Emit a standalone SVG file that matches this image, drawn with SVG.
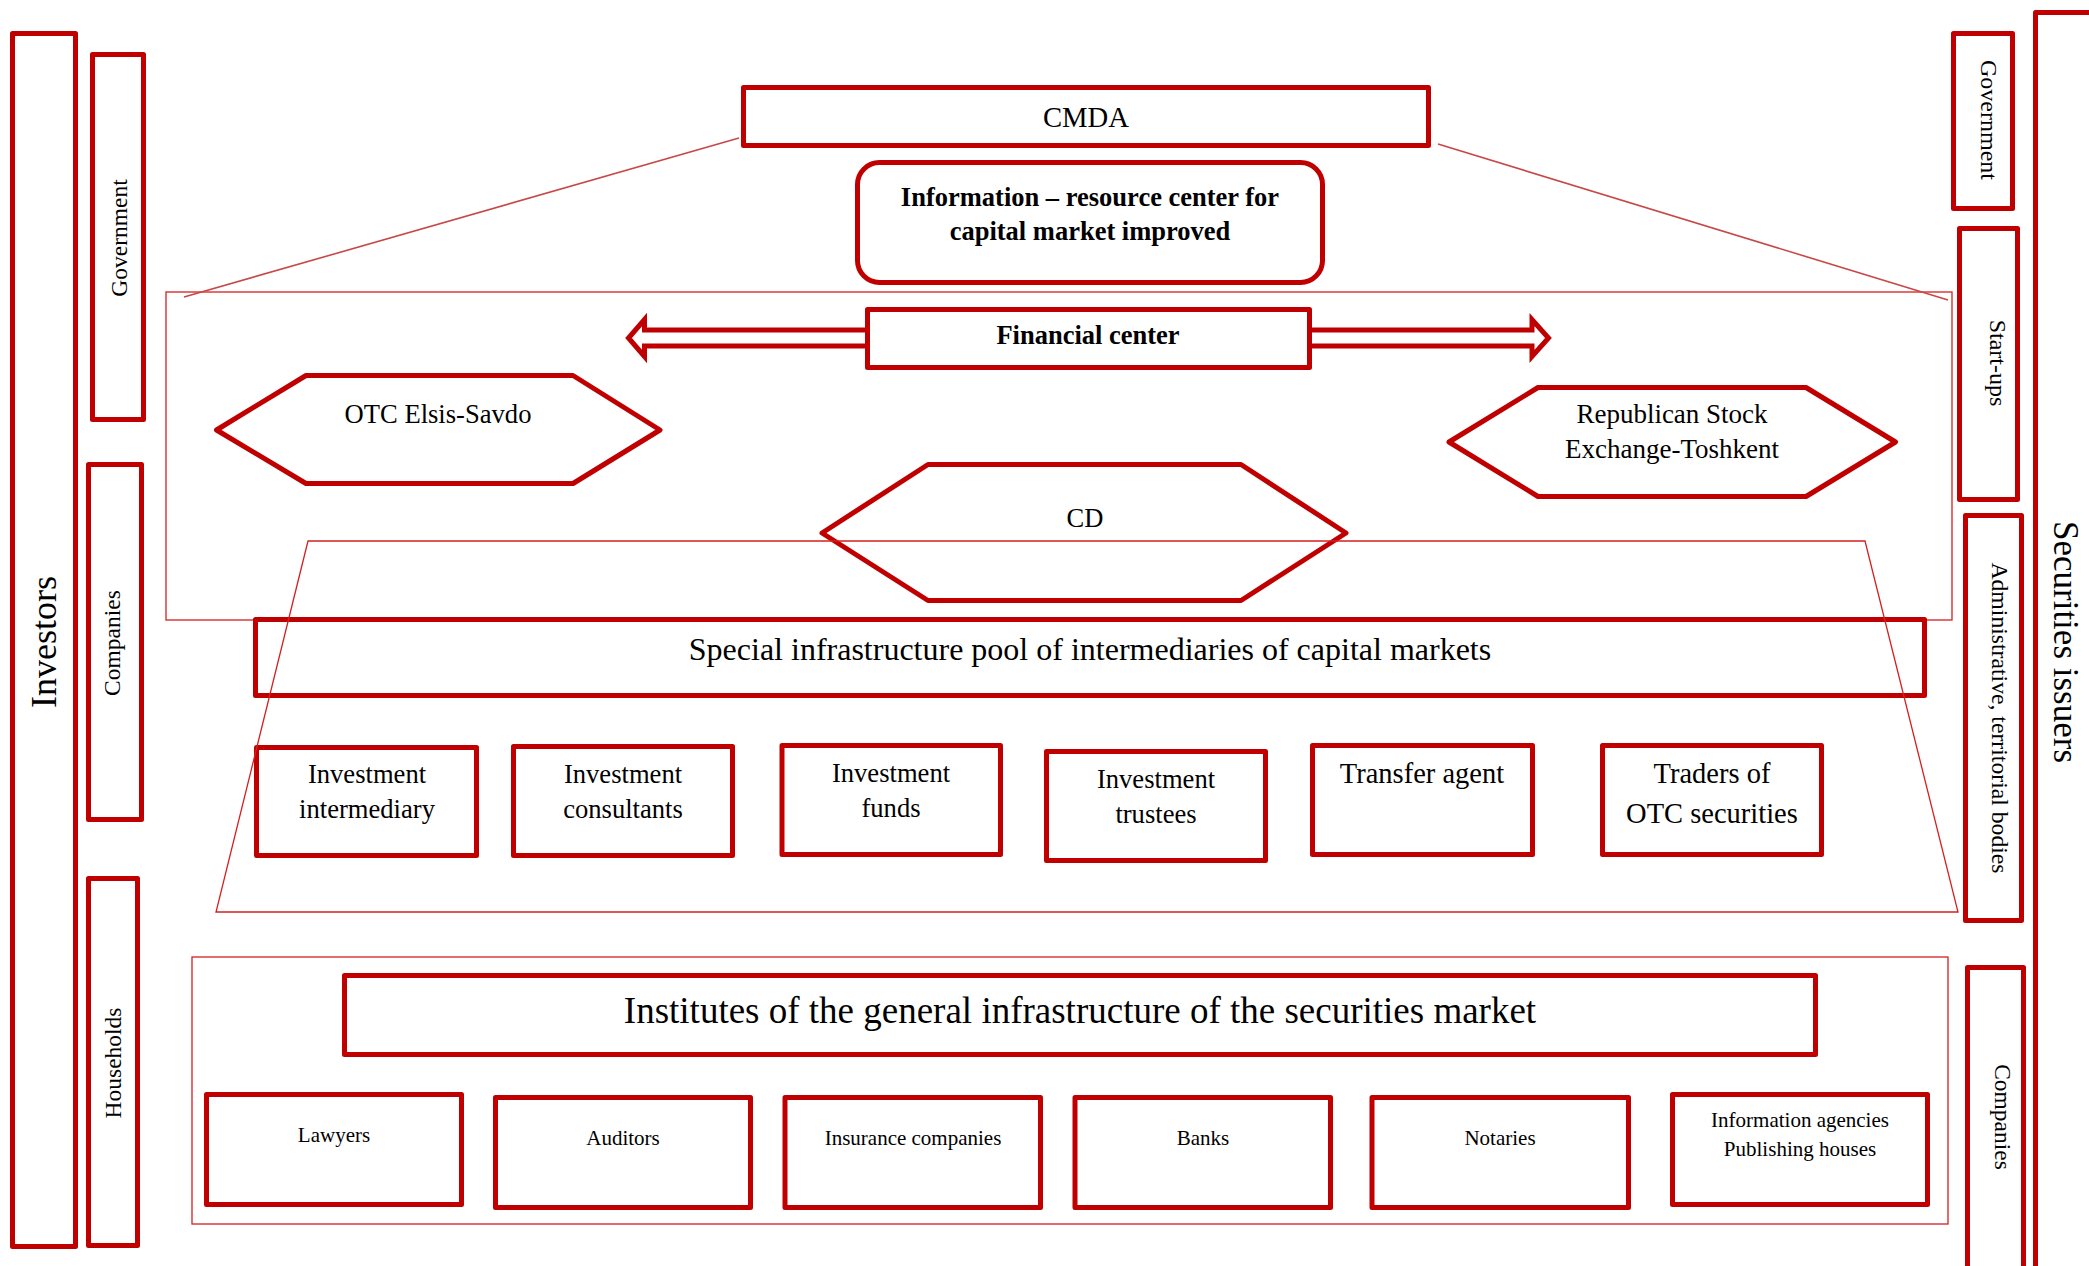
<svg xmlns="http://www.w3.org/2000/svg" width="2089" height="1266" viewBox="0 0 2089 1266">
<style>
.box{fill:#fff;stroke:#C00000;stroke-width:5;stroke-linejoin:round}
.thin{fill:none;stroke:#D42020;stroke-width:1.3}
.diag{fill:none;stroke:#C84848;stroke-width:1.6}
.arrow{fill:#fff;stroke:#C00000;stroke-width:5;stroke-linejoin:miter}
text{font-family:"Liberation Serif","Times New Roman",serif;fill:#000}
.c{text-anchor:middle}
.b{font-weight:bold}
</style>
<rect width="2089" height="1266" fill="#fff"/>

<g id="frames-back">
  <rect class="thin" x="166" y="292" width="1786" height="328"/>
  <rect class="thin" x="192" y="957" width="1756" height="267"/>
</g>

<g id="connectors">
  <line class="diag" x1="184" y1="297" x2="739" y2="138"/>
  <line class="diag" x1="1438" y1="144" x2="1948" y2="300"/>
  <path class="arrow" d="M867.5,330 L644.5,330 L644.5,319.5 L628.5,338 L644.5,356.5 L644.5,346 L867.5,346"/>
  <path class="arrow" d="M1309.5,330 L1532,330 L1532,319.5 L1548.5,338 L1532,356.5 L1532,346 L1309.5,346"/>
</g>

<g id="investors">
  <rect class="box" x="12.5" y="33.5" width="63" height="1213"/>
  <text class="c" font-size="36" transform="translate(56,642) rotate(-90)">Investors</text>
</g>
<g id="inv-government">
  <rect class="box" x="92.5" y="54.5" width="51" height="365"/>
  <text class="c" font-size="23.5" transform="translate(127,238) rotate(-90)">Government</text>
</g>
<g id="inv-companies">
  <rect class="box" x="88.5" y="464.5" width="53" height="355"/>
  <text class="c" font-size="23.5" transform="translate(120,643) rotate(-90)">Companies</text>
</g>
<g id="inv-households">
  <rect class="box" x="88.5" y="878.5" width="49" height="367"/>
  <text class="c" font-size="23.5" transform="translate(121,1063) rotate(-90)">Households</text>
</g>

<g id="securities-issuers">
  <rect class="box" x="2035.5" y="12.5" width="90" height="1300"/>
  <text class="c" font-size="35" transform="translate(2054,642) rotate(90)">Securities issuers</text>
</g>
<g id="iss-government">
  <rect class="box" x="1953.5" y="33.5" width="59" height="175"/>
  <text class="c" font-size="24" transform="translate(1981,120) rotate(90)">Government</text>
</g>
<g id="iss-startups">
  <rect class="box" x="1959.5" y="228.5" width="58" height="271"/>
  <text class="c" font-size="24" transform="translate(1990,363) rotate(90)">Start-ups</text>
</g>
<g id="iss-admin">
  <rect class="box" x="1965.5" y="515.5" width="56" height="405"/>
  <text class="c" font-size="23.7" transform="translate(1992,718) rotate(90)">Administrative, territorial bodies</text>
</g>
<g id="iss-companies">
  <rect class="box" x="1967.5" y="967.5" width="56" height="320"/>
  <text class="c" font-size="23.5" transform="translate(1995,1117) rotate(90)">Companies</text>
</g>

<g id="cmda">
  <rect class="box" x="743.5" y="87.5" width="685" height="58"/>
  <text class="c" x="1086" y="127" font-size="28.7">CMDA</text>
</g>
<g id="info-center">
  <rect class="box" x="857.5" y="162.5" width="465" height="120" rx="22"/>
  <text class="c b" x="1090" y="206" font-size="26.5">Information – resource center for</text>
  <text class="c b" x="1090" y="240" font-size="26.5">capital market improved</text>
</g>
<g id="financial-center">
  <rect class="box" x="867.5" y="309.5" width="442" height="58"/>
  <text class="c b" x="1088" y="344" font-size="26.5">Financial center</text>
</g>
<g id="otc">
  <polygon class="box" points="216.5,430 306,375.5 573,375.5 660,430 573,483.5 306,483.5"/>
  <text class="c" x="438" y="423" font-size="26.6">OTC Elsis-Savdo</text>
</g>
<g id="rse">
  <polygon class="box" points="1449,442 1538,387.5 1806,387.5 1895.5,442 1806,496.5 1538,496.5"/>
  <text class="c" x="1672" y="423" font-size="27">Republican Stock</text>
  <text class="c" x="1672" y="458" font-size="27">Exchange-Toshkent</text>
</g>
<g id="cd">
  <polygon class="box" points="822,533 928,464.5 1241,464.5 1346,533 1241,600.5 928,600.5"/>
  <text class="c" x="1085" y="527" font-size="26.5">CD</text>
</g>

<g id="special-pool">
  <rect class="box" x="255.5" y="619.5" width="1669" height="76"/>
  <text class="c" x="1090" y="660" font-size="32">Special infrastructure pool of intermediaries of capital markets</text>
</g>
<g id="inv-intermediary">
  <rect class="box" x="256.5" y="747.5" width="220" height="108"/>
  <text class="c" x="367" y="783" font-size="26.6">Investment</text>
  <text class="c" x="367" y="818" font-size="26.6">intermediary</text>
</g>
<g id="inv-consultants">
  <rect class="box" x="513.5" y="746.5" width="219" height="109"/>
  <text class="c" x="623" y="783" font-size="26.6">Investment</text>
  <text class="c" x="623" y="818" font-size="26.6">consultants</text>
</g>
<g id="inv-funds">
  <rect class="box" x="782" y="745.5" width="218.5" height="109"/>
  <text class="c" x="891" y="782" font-size="26.6">Investment</text>
  <text class="c" x="891" y="817" font-size="26.6">funds</text>
</g>
<g id="inv-trustees">
  <rect class="box" x="1046.5" y="751.5" width="219" height="109"/>
  <text class="c" x="1156" y="788" font-size="26.6">Investment</text>
  <text class="c" x="1156" y="823" font-size="26.6">trustees</text>
</g>
<g id="transfer-agent">
  <rect class="box" x="1312.5" y="745.5" width="220" height="109"/>
  <text class="c" x="1422" y="783" font-size="28.5">Transfer agent</text>
</g>
<g id="otc-traders">
  <rect class="box" x="1602.5" y="745.5" width="219" height="109"/>
  <text class="c" x="1712" y="783" font-size="28.5">Traders of</text>
  <text class="c" x="1712" y="823" font-size="28.5">OTC securities</text>
</g>

<g id="institutes">
  <rect class="box" x="344.5" y="975.5" width="1471" height="79"/>
  <text class="c" x="1080" y="1023" font-size="37">Institutes of the general infrastructure of the securities market</text>
</g>
<g id="lawyers">
  <rect class="box" x="206.5" y="1094.5" width="255" height="110"/>
  <text class="c" x="334" y="1142" font-size="21">Lawyers</text>
</g>
<g id="auditors">
  <rect class="box" x="495.5" y="1097.5" width="255" height="110"/>
  <text class="c" x="623" y="1145" font-size="21">Auditors</text>
</g>
<g id="insurance">
  <rect class="box" x="785" y="1097.5" width="255.5" height="110"/>
  <text class="c" x="913" y="1145" font-size="21">Insurance companies</text>
</g>
<g id="banks">
  <rect class="box" x="1075" y="1097.5" width="255.5" height="110"/>
  <text class="c" x="1203" y="1145" font-size="21">Banks</text>
</g>
<g id="notaries">
  <rect class="box" x="1372" y="1097.5" width="256.5" height="110"/>
  <text class="c" x="1500" y="1145" font-size="21">Notaries</text>
</g>
<g id="info-agencies">
  <rect class="box" x="1672.5" y="1094.5" width="255" height="110"/>
  <text class="c" x="1800" y="1127" font-size="21">Information agencies</text>
  <text class="c" x="1800" y="1156" font-size="21">Publishing houses</text>
</g>

<g id="frames-front">
  <polygon class="thin" points="308,541 1865,541 1958,912 216,912"/>
</g>
</svg>
